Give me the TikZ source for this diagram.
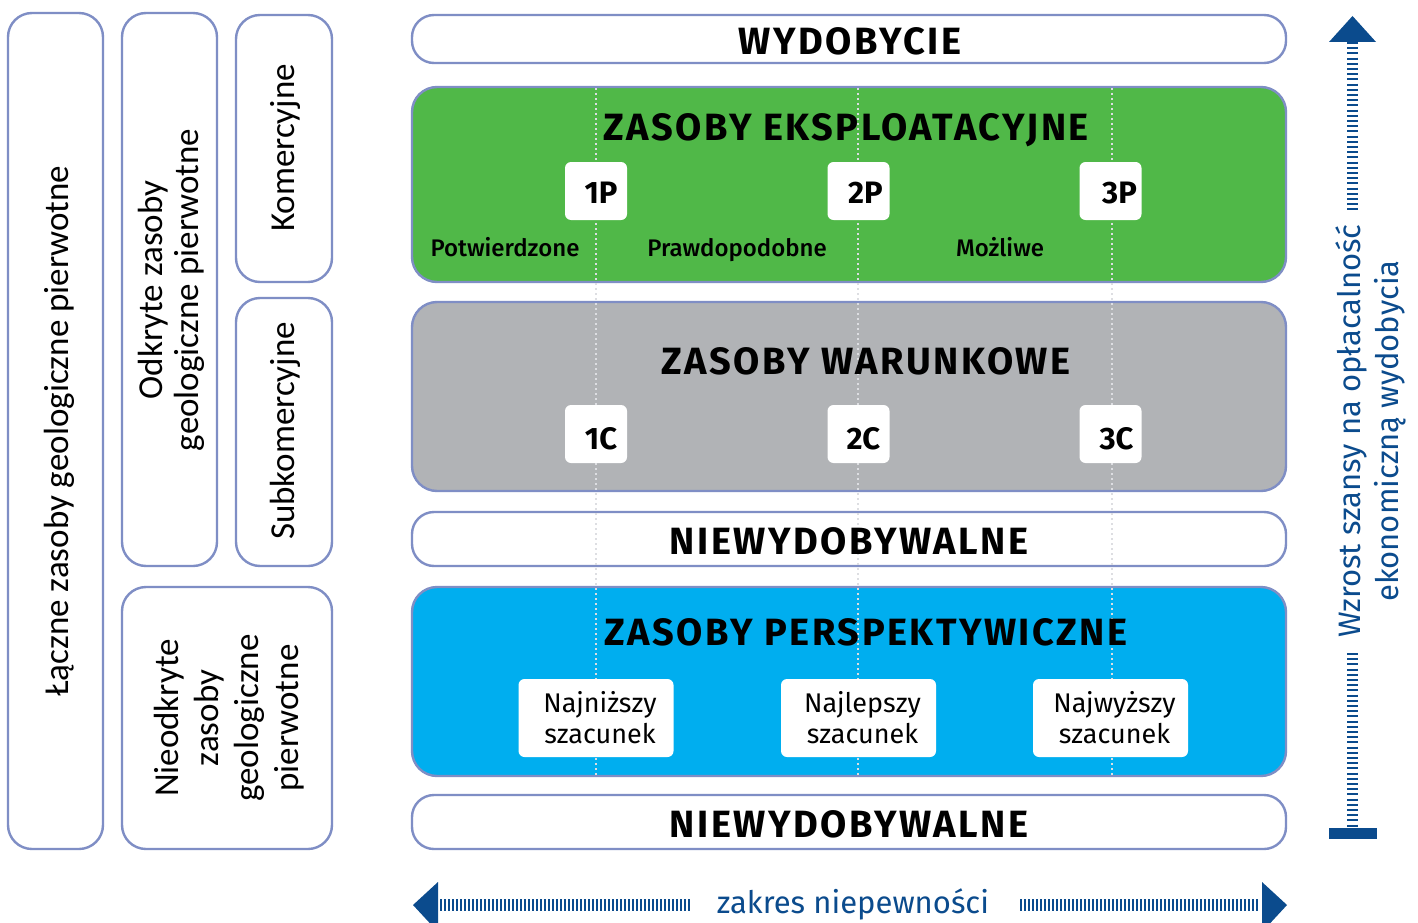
\documentclass[tikz,border=0pt]{standalone}
\usepackage{fontspec}
\setmainfont{Fira Sans}
\newfontfamily\calib{Carlito}
\newfontfamily\firamed{Fira Sans Medium}
\newfontfamily\firatitle[LetterSpace=6.5]{Fira Sans}
\definecolor{bord}{HTML}{7F8EC5}
\definecolor{grn}{HTML}{50B848}
\definecolor{gry}{HTML}{B1B3B6}
\definecolor{blu}{HTML}{00AEEF}
\definecolor{navy}{HTML}{0B4B8D}
\definecolor{dotc}{HTML}{DDDEE2}
\tikzset{
  sidebox/.style={draw=bord, line width=2.4pt, rounded corners=24pt, fill=white, inner sep=0pt},
  band/.style={draw=bord, line width=2.4pt, rounded corners=22pt, fill=white, inner sep=0pt, minimum width=874pt},
  sidetext/.style={rotate=90, align=center, font=\calib\fontsize{35}{36}\selectfont},
  title/.style={font=\firatitle\bfseries\fontsize{38}{40}\selectfont},
  tag/.style={fill=white, rounded corners=6pt, minimum width=62pt, minimum height=58pt, inner sep=0pt, text height=24pt, text depth=0pt, font=\bfseries\fontsize{31}{33}\selectfont},
  ctag/.style={tag, text height=30pt},
  est/.style={fill=white, rounded corners=6pt, minimum width=155pt, minimum height=78pt, inner sep=0pt, align=center, font=\fontsize{27}{31}\selectfont},
  sub/.style={anchor=base, font=\firamed\fontsize{24}{26}\selectfont},
  divider/.style={dotc, line width=1.6pt, dash pattern=on 2pt off 3pt},
  ticksv/.style={navy, line width=11pt, dash pattern=on 2pt off 3.2pt},
  ticksh/.style={navy, line width=12pt, dash pattern=on 1.5pt off 2.5pt},
  axis/.style={text=navy, font=\fontsize{31}{38}\selectfont, align=center}
}
\begin{document}
\begin{tikzpicture}[x=1pt,y=-1pt]
\clip (0,0) rectangle (1418,923);
\fill[white] (0,0) rectangle (1418,923);

% left boxes
\node[sidebox, minimum width=95pt, minimum height=836pt] (A) at (55.5,431) {};
\node[sidebox, minimum width=95pt, minimum height=553pt] (B) at (169.5,289.5) {};
\node[sidebox, minimum width=96pt, minimum height=267pt] (C) at (284,148.5) {};
\node[sidebox, minimum width=96pt, minimum height=268pt] (D) at (284,432) {};
\node[sidebox, minimum width=210pt, minimum height=262pt] (E) at (227,718) {};
\node[sidetext] (At) at (59,431) {Łączne zasoby geologiczne pierwotne};
\node[sidetext] (Bt) at (171,290) {Odkryte zasoby\\geologiczne pierwotne};
\node[sidetext] (Ct) at (285,148) {Komercyjne};
\node[sidetext] (Dt) at (285,431) {Subkomercyjne};
\node[sidetext, font=\calib\fontsize{35}{40}\selectfont] (Et) at (229,718) {Nieodkryte\\zasoby\\geologiczne\\pierwotne};

% bands
\node[band, minimum height=48pt] (wyd) at (849,39) {};
\node[band, fill=grn, minimum height=195pt, rounded corners=25pt] (exp) at (849,184.5) {};
\node[band, fill=gry, minimum height=189pt, rounded corners=25pt] (war) at (849,396.5) {};
\node[band, minimum height=54pt] (nie1) at (849,539) {};
\node[band, fill=blu, minimum height=189pt, rounded corners=25pt] (per) at (849,681.5) {};
\node[band, minimum height=54pt] (nie2) at (849,822) {};

% dividers
\coordinate (d1t) at (596,88); \coordinate (d1b) at (596,776);
\coordinate (d2t) at (858,88); \coordinate (d2b) at (858,776);
\coordinate (d3t) at (1112,88); \coordinate (d3b) at (1112,776);
\draw[divider] (d1t) -- (d1b);
\draw[divider] (d2t) -- (d2b);
\draw[divider] (d3t) -- (d3b);

% titles
\node[title] (wydt) at (850,41) {WYDOBYCIE};
\node[title] (expt) at (846,130) {ZASOBY EKSPLOATACYJNE};
\node[title] (wart) at (866,361) {ZASOBY WARUNKOWE};
\node[title] (nie1t) at (849,541) {NIEWYDOBYWALNE};
\node[title] (pert) at (866,632) {ZASOBY PERSPEKTYWICZNE};
\node[title] (nie2t) at (849,824) {NIEWYDOBYWALNE};

% tags
\node[tag] (p1) at (596,191) {\hspace*{10pt}1P};
\node[tag] (p2) at (858.5,191) {\hspace*{14pt}2P};
\node[tag] (p3) at (1110.5,191) {\hspace*{18pt}3P};
\node[ctag] (c1) at (596,434) {\hspace*{10pt}1C};
\node[ctag] (c2) at (858.5,434) {\hspace*{10pt}2C};
\node[ctag] (c3) at (1110.5,434) {\hspace*{12pt}3C};
\node[sub] (pot) at (505,256) {Potwierdzone};
\node[sub] (pra) at (737,256) {Prawdopodobne};
\node[sub] (moz) at (1000,256) {Możliwe};

\node[est] (e1) at (596,718) {\hspace*{8pt}Najniższy\\\hspace*{8pt}szacunek};
\node[est] (e2) at (858.5,718) {\hspace*{8pt}Najlepszy\\\hspace*{8pt}szacunek};
\node[est] (e3) at (1110.5,718) {\hspace*{8pt}Najwyższy\\\hspace*{8pt}szacunek};

% vertical axis
\coordinate (vtip) at (1352.5,16);
\coordinate (vb) at (1352.5,42);
\coordinate (vm1) at (1352.5,213);
\coordinate (vm2) at (1352.5,653);
\coordinate (vbot) at (1352.5,829);
\fill[navy] (vtip) -- ++(23.5,26) -- ++(-47,0) -- cycle;
\draw[ticksv] (vb) -- (vm1);
\draw[ticksv] (vm2) -- (vbot);
\fill[navy] (1328.5,828) rectangle (1376.5,839);
\node[axis, rotate=90] (vtext) at (1371,431) {Wzrost szansy na opłacalność\\ekonomiczną wydobycia};

% horizontal axis
\coordinate (hl) at (413,905);
\coordinate (hr) at (1287,905);
\fill[navy] (hl) -- ++(25,-23) -- ++(0,50) -- cycle;
\fill[navy] (hr) -- ++(-25,-23) -- ++(0,50) -- cycle;
\coordinate (hl1) at (440,905); \coordinate (hl2) at (690,905);
\coordinate (hr1) at (1020,905); \coordinate (hr2) at (1260,905);
\draw[ticksh] (hl1) -- (hl2);
\draw[ticksh] (hr1) -- (hr2);
\node[axis] (htext) at (853,904) {zakres niepewności};
\end{tikzpicture}
\end{document}
